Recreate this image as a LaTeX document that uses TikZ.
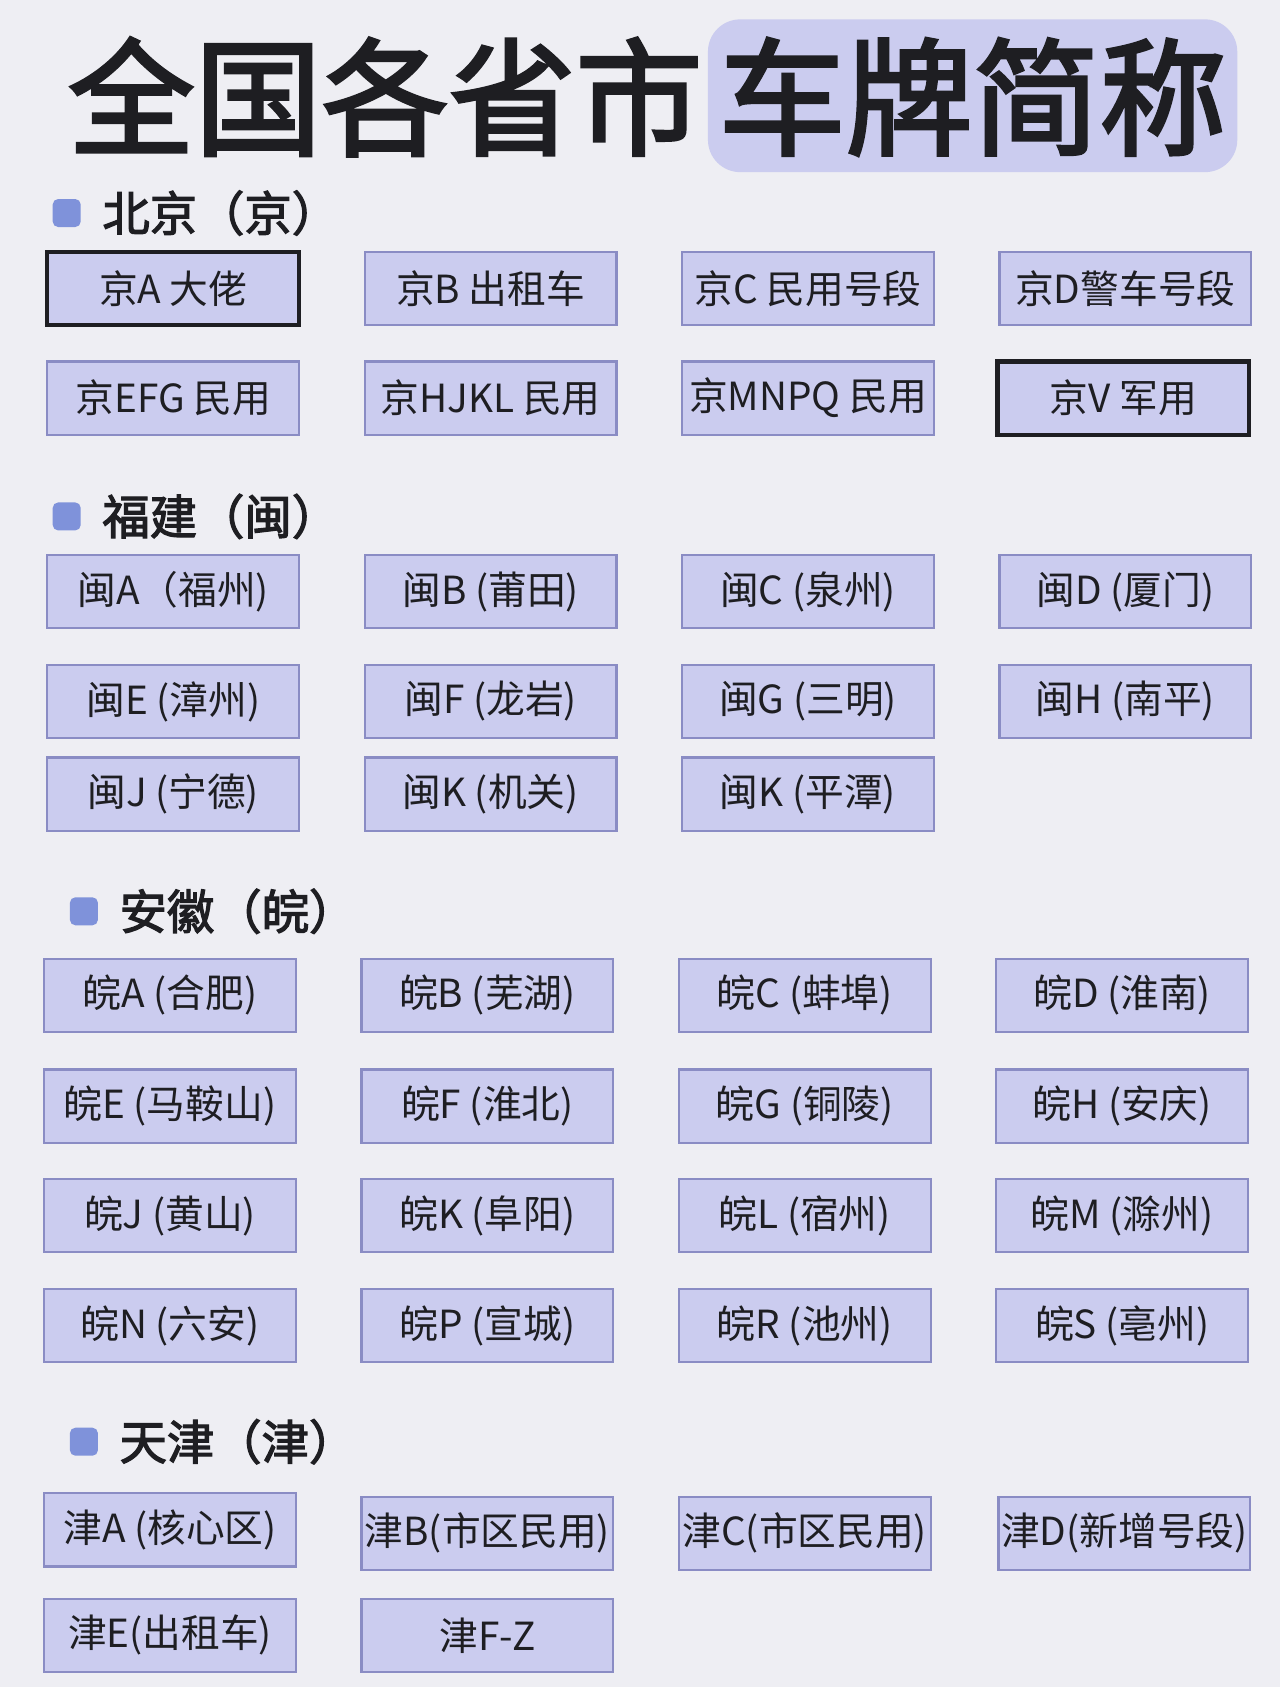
\documentclass[tikz,border=0pt]{standalone}
\usepackage{fontspec}
\setmainfont{Noto Sans CJK SC}
\newfontfamily\cjkb{Noto Sans CJK SC}[FakeBold=2.5]
\definecolor{bg}{HTML}{EEEEF3}
\definecolor{box}{HTML}{CBCCEF}
\definecolor{bord}{HTML}{8A8CC4}
\definecolor{bul}{HTML}{7F92DA}
\definecolor{ink}{HTML}{1E1E22}
\begin{document}
\begin{tikzpicture}[x=1pt,y=-1pt,
  pl/.style={draw=bord,line width=2pt,fill=box,minimum width=234pt,minimum height=68pt,inner sep=0pt,text=ink,font=\fontsize{36}{36}\selectfont},
  blk/.style={pl,draw=ink,line width=4pt},
  hd/.style={anchor=west,text=ink,font=\cjkb\fontsize{44}{44}\selectfont,inner sep=0pt},
  bu/.style={fill=bul,rounded corners=5pt,minimum size=26pt,inner sep=0pt}]
\fill[bg] (0,0) rectangle (1190,1568);
\useasboundingbox (0,0) rectangle (1190,1568);
\fill[box,rounded corners=30pt] (658,18) rectangle (1150,160);
\node[anchor=center,text=ink,font=\cjkb\fontsize{118}{118}\selectfont,inner sep=0pt] (t1) at (358,90) {全国各省市};
\node[anchor=center,text=ink,font=\cjkb\fontsize{118}{118}\selectfont,inner sep=0pt] (t2) at (904,90) {车牌简称};
% headers
\node[bu] (b1) at (62,198) {}; \node[hd] (h1) at (95,198) {北京（京）};
\node[bu] (b2) at (62,480) {}; \node[hd] (h2) at (95,480) {福建（闽）};
\node[bu] (b3) at (78,847) {}; \node[hd] (h3) at (111,847) {安徽（皖）};
\node[bu] (b4) at (78,1340) {}; \node[hd] (h4) at (111,1340) {天津（津）};
% Beijing
\node[blk] (j1) at (161,268) {京A 大佬};
\node[pl] (j2) at (456,268) {京B 出租车};
\node[pl] (j3) at (751,268) {京C 民用号段};
\node[pl] (j4) at (1046,268) {京D警车号段};
\node[pl] (j5) at (161,370) {京EFG 民用};
\node[pl] (j6) at (456,370) {京HJKL 民用};
\node[pl] (j7) at (751,370) {京MNPQ 民用};
\node[blk] (j8) at (1044,370) {京V 军用};
% Fujian
\node[pl] (m1) at (161,550) {闽A（福州)};
\node[pl] (m2) at (456,550) {闽B (莆田)};
\node[pl] (m3) at (751,550) {闽C (泉州)};
\node[pl] (m4) at (1046,550) {闽D (厦门)};
\node[pl] (m5) at (161,652) {闽E (漳州)};
\node[pl] (m6) at (456,652) {闽F (龙岩)};
\node[pl] (m7) at (751,652) {闽G (三明)};
\node[pl] (m8) at (1046,652) {闽H (南平)};
\node[pl] (m9) at (161,738) {闽J (宁德)};
\node[pl] (m10) at (456,738) {闽K (机关)};
\node[pl] (m11) at (751,738) {闽K (平潭)};
% Anhui
\node[pl] (a1) at (158,925) {皖A (合肥)};
\node[pl] (a2) at (453,925) {皖B (芜湖)};
\node[pl] (a3) at (748,925) {皖C (蚌埠)};
\node[pl] (a4) at (1043,925) {皖D (淮南)};
\node[pl] (a5) at (158,1028) {皖E (马鞍山)};
\node[pl] (a6) at (453,1028) {皖F (淮北)};
\node[pl] (a7) at (748,1028) {皖G (铜陵)};
\node[pl] (a8) at (1043,1028) {皖H (安庆)};
\node[pl] (a9) at (158,1130) {皖J (黄山)};
\node[pl] (a10) at (453,1130) {皖K (阜阳)};
\node[pl] (a11) at (748,1130) {皖L (宿州)};
\node[pl] (a12) at (1043,1130) {皖M (滁州)};
\node[pl] (a13) at (158,1232) {皖N (六安)};
\node[pl] (a14) at (453,1232) {皖P (宣城)};
\node[pl] (a15) at (748,1232) {皖R (池州)};
\node[pl] (a16) at (1043,1232) {皖S (亳州)};
% Tianjin
\node[pl] (k1) at (158,1422) {津A (核心区)};
\node[pl] (k2) at (453,1425) {津B(市区民用)};
\node[pl] (k3) at (748,1425) {津C(市区民用)};
\node[pl] (k4) at (1045,1425) {津D(新增号段)};
\node[pl] (k5) at (158,1520) {津E(出租车)};
\node[pl] (k6) at (453,1520) {津F-Z};
\end{tikzpicture}
\end{document}
